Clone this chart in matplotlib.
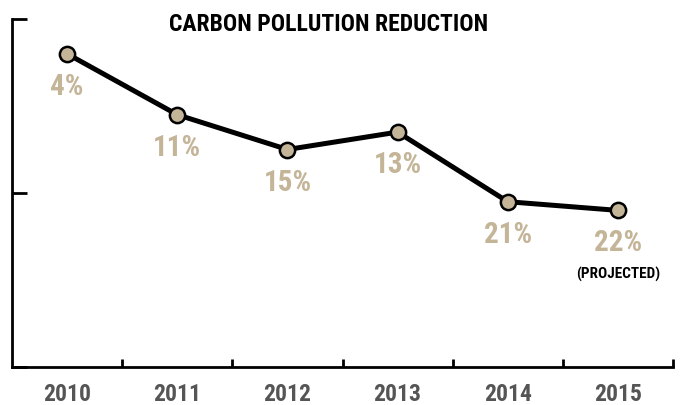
import matplotlib
matplotlib.use("Agg")
import matplotlib.pyplot as plt
from matplotlib import font_manager

years = ["2010", "2011", "2012", "2013", "2014", "2015"]
reduction = [4, 11, 15, 13, 21, 22]
labels = ["4%", "11%", "15%", "13%", "21%", "22%"]
y_ticks = [0, 20, 40]

names = {f.name for f in font_manager.fontManager.ttflist}
family = [n for n in ["Roboto Condensed", "Liberation Sans Narrow", "DejaVu Sans Condensed",
                      "Liberation Sans", "DejaVu Sans"] if n in names]
plt.rcParams["font.family"] = family

tan = "#c4b498"
fig = plt.figure(figsize=(6.81, 4.06), dpi=100)
ax = fig.add_axes([12 / 681, 1 - 368 / 406, (673 - 12) / 681, (368 - 20) / 406])

x = [i + 0.5 for i in range(len(years))]
ax.plot(x, reduction, color="black", lw=3.6, solid_capstyle="round", zorder=2)
ax.plot(x, reduction, "o", ms=11, mfc=tan, mec="black", mew=1.8, zorder=3)

for xi, v, lab in zip(x, reduction, labels):
    ax.annotate(lab, (xi, v), xytext=(0, -13), textcoords="offset points",
                ha="center", va="top", fontsize=21, color=tan, fontweight="bold")
ax.annotate("(PROJECTED)", (x[-1], reduction[-1]), xytext=(0, -40), textcoords="offset points",
            ha="center", va="top", fontsize=11, color="black", fontweight="bold")

ax.set_xlim(0, len(years))
ax.set_ylim(40, 0)
ax.set_yticks(y_ticks)
ax.set_yticklabels([])
ax.set_xticks(range(1, len(years) + 1))
ax.set_xticklabels([])
ax.set_xticks(x, minor=True)
ax.set_xticklabels(years, minor=True)
ax.tick_params(axis="x", which="minor", length=0, pad=11, labelsize=17, labelcolor="#555555")
ax.tick_params(axis="x", which="major", direction="in", length=6, width=2, color="black")
ax.tick_params(axis="y", direction="in", length=11, width=2, color="black")
for t in ax.get_xticklabels(minor=True):
    t.set_fontweight("bold")

for s in ["top", "right"]:
    ax.spines[s].set_visible(False)
for s in ["left", "bottom"]:
    ax.spines[s].set_linewidth(2)

ax.set_title("CARBON POLLUTION REDUCTION", fontsize=17, fontweight="bold", pad=-8, y=1.0,
             x=(329 - 12) / 661)

fig.savefig("out.png", dpi=100)
